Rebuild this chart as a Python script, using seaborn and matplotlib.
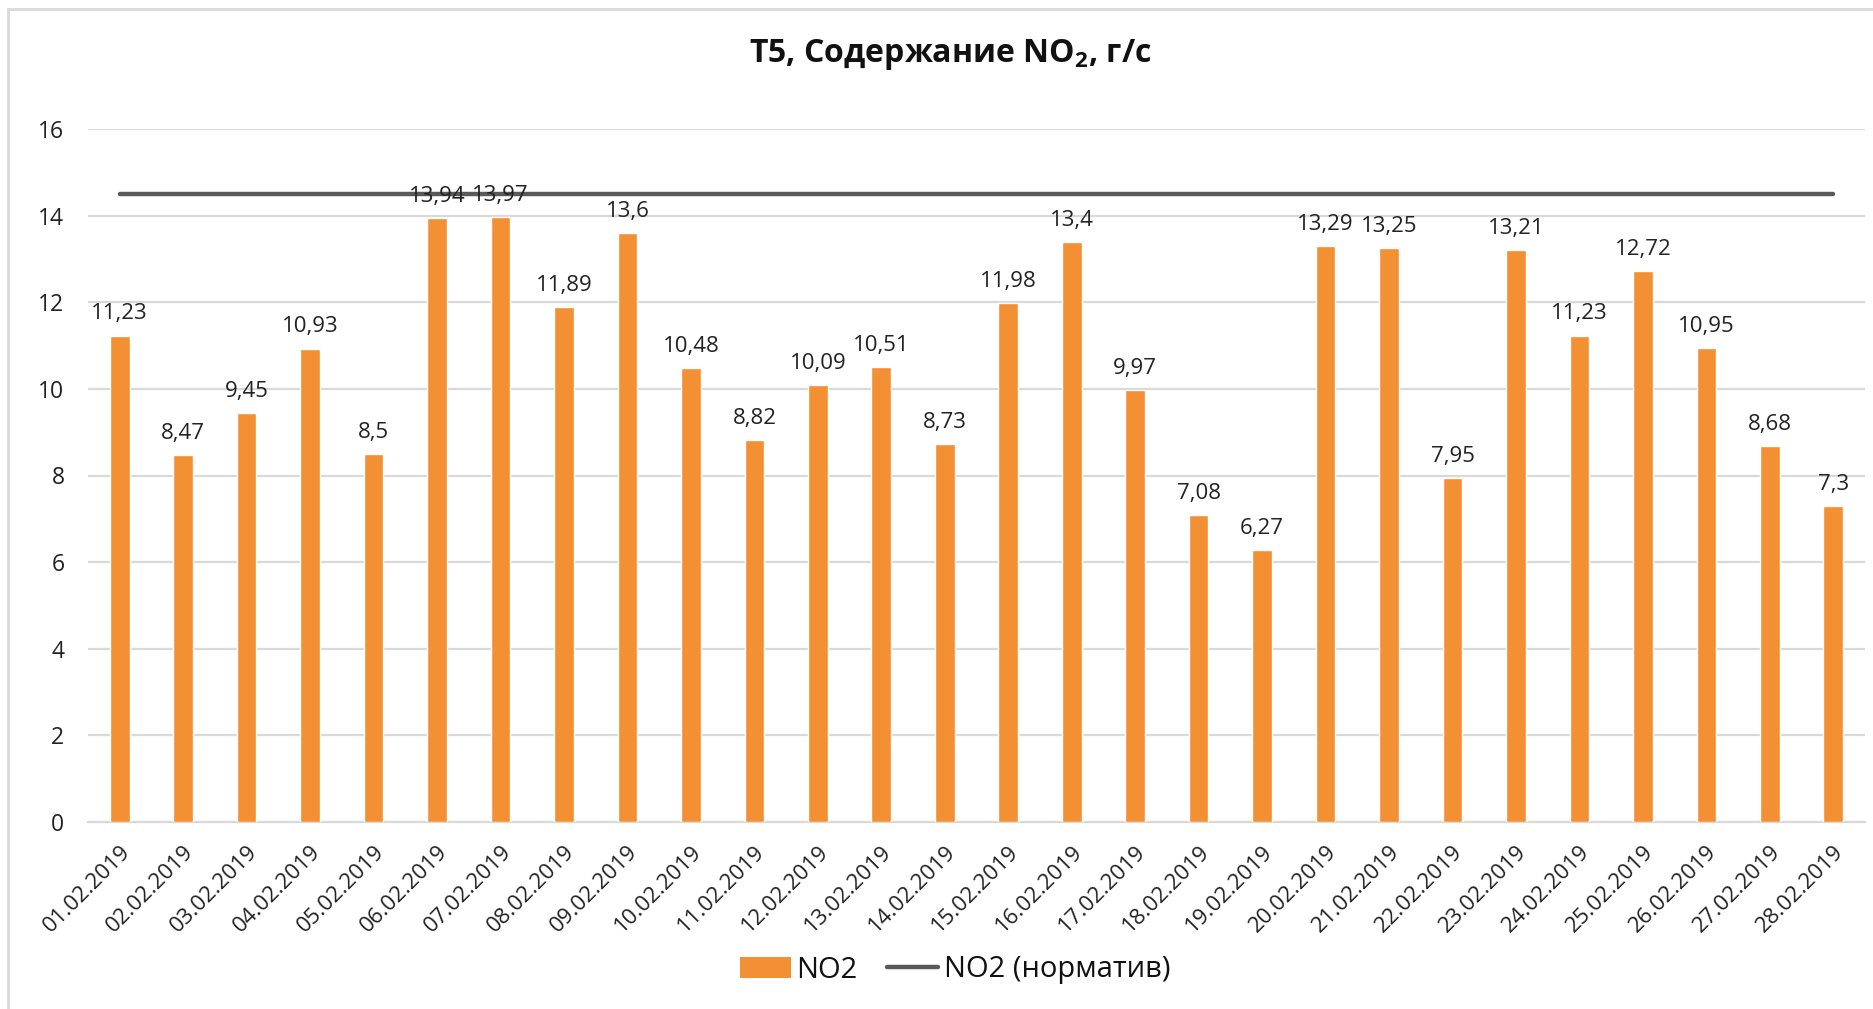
import matplotlib
matplotlib.use("Agg")
import matplotlib.pyplot as plt
import seaborn as sns
import pandas as pd
from matplotlib.lines import Line2D
from matplotlib.patches import Patch

dates = ["01.02.2019", "02.02.2019", "03.02.2019", "04.02.2019", "05.02.2019",
         "06.02.2019", "07.02.2019", "08.02.2019", "09.02.2019", "10.02.2019",
         "11.02.2019", "12.02.2019", "13.02.2019", "14.02.2019", "15.02.2019",
         "16.02.2019", "17.02.2019", "18.02.2019", "19.02.2019", "20.02.2019",
         "21.02.2019", "22.02.2019", "23.02.2019", "24.02.2019", "25.02.2019",
         "26.02.2019", "27.02.2019", "28.02.2019"]
no2 = [11.23, 8.47, 9.45, 10.93, 8.5, 13.94, 13.97, 11.89, 13.6, 10.48,
       8.82, 10.09, 10.51, 8.73, 11.98, 13.4, 9.97, 7.08, 6.27, 13.29,
       13.25, 7.95, 13.21, 11.23, 12.72, 10.95, 8.68, 7.3]
norm = [14.5] * len(dates)
yticks = [0, 2, 4, 6, 8, 10, 12, 14, 16]

sns.set_theme(style="white")
plt.rcParams['font.family'] = ['Open Sans', 'DejaVu Sans']
plt.rcParams['mathtext.fontset'] = 'custom'
plt.rcParams['mathtext.rm'] = 'Open Sans'
plt.rcParams['mathtext.bf'] = 'Open Sans:bold'

W, H = 1874, 1009
fig = plt.figure(figsize=(W / 100, H / 100), dpi=100)
ax = fig.add_axes([88 / W, 1 - 822 / H, (1865 - 88) / W, (822 - 129) / H])

df = pd.DataFrame({"date": dates, "NO2": no2, "norm": norm})
bar_color = "#F39034"
sns.barplot(data=df, x="date", y="NO2", color=bar_color, width=0.31,
            saturation=1, ax=ax, zorder=3)
sns.lineplot(data=df, x="date", y="norm", color="#595959", linewidth=3.2,
             ax=ax, zorder=4, sort=False)

ax.set_xlim(-0.5, len(dates) - 0.5)
ax.set_ylim(0, 16)
ax.set_yticks(yticks)
ax.set_yticklabels([str(v) for v in yticks], fontsize=16.5, color="#222222")
ax.yaxis.grid(True, color="#D9D9D9", linewidth=1.6, zorder=0)
ax.set_axisbelow(True)
for s in ["left", "right", "top"]:
    ax.spines[s].set_visible(False)
ax.spines["bottom"].set_color("#D9D9D9")
ax.spines["bottom"].set_linewidth(1.6)
ax.tick_params(axis="y", length=0, pad=17)

ax.set_xticks(range(len(dates)))
ax.set_xticklabels(dates, rotation=45, ha="right", va="top",
                   rotation_mode="anchor", fontsize=16, color="#222222")
ax.tick_params(axis="x", which="major", length=0, pad=14)
ax.set_xticks([i - 0.5 for i in range(len(dates) + 1)], minor=True)
ax.tick_params(axis="x", which="minor", length=7, width=1.6, color="#D9D9D9")
ax.set_xlabel("")
ax.set_ylabel("")

for i, v in enumerate(no2):
    lbl = ("%g" % v).replace(".", ",")
    ax.annotate(lbl, (i, v), xytext=(0, 8), textcoords="offset points",
                ha="center", va="bottom", fontsize=16, color="#222222",
                zorder=5)

fig.text(0.507, 1 - 55 / H, r"Т5, Содержание NO$_\mathbf{2}$, г/с",
         ha="center", va="center", fontsize=23, fontweight="bold",
         color="#111111")

handles = [Patch(facecolor=bar_color, edgecolor="none"),
           Line2D([0], [0], color="#595959", linewidth=3.2)]
fig.legend(handles, ["NO2", "NO2 (норматив)"], loc="center",
           bbox_to_anchor=(955 / W, 1 - 970 / H), ncol=2, frameon=False,
           fontsize=21, handlelength=1.75, handletextpad=0.2,
           columnspacing=1.0, labelcolor="#111111")

fig.add_artist(Line2D([8 / W, 1], [1 - 9 / H, 1 - 9 / H], color="#D9D9D9",
                      linewidth=2, transform=fig.transFigure))
fig.add_artist(Line2D([8 / W, 8 / W], [0, 1 - 9 / H], color="#D9D9D9",
                      linewidth=2, transform=fig.transFigure))

fig.savefig("out.png", dpi=100)
